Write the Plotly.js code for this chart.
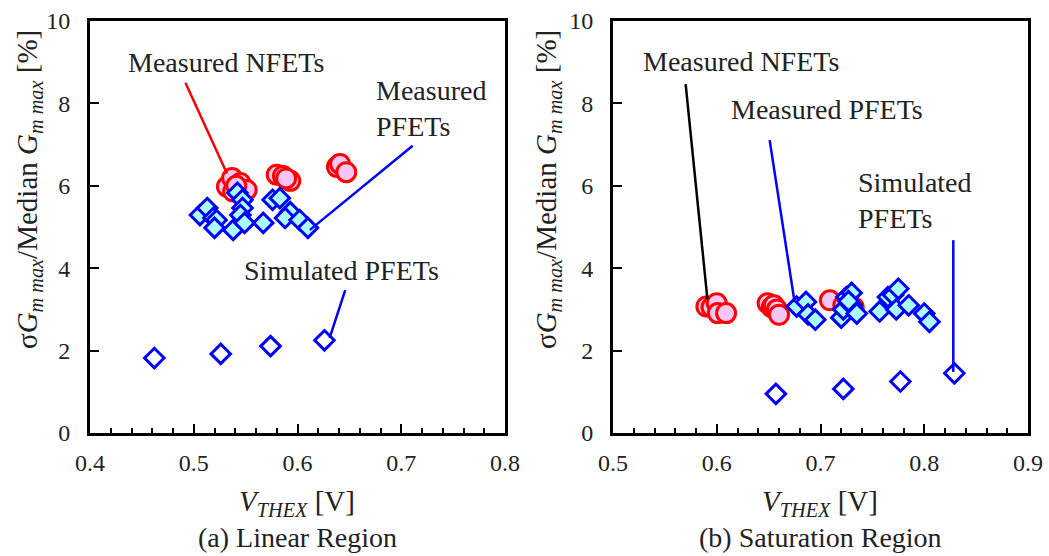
<!DOCTYPE html>
<html><head><meta charset="utf-8">
<script src="https://cdn.plot.ly/plotly-3.0.1.min.js"></script>
<style>html,body{margin:0;padding:0;background:#fff}</style>
</head><body><div id="chart" style="width:1049px;height:556px"></div>
<script>
// (a) Linear region
const linNfetX = [0.532,0.537,0.545,0.551,0.538,0.541,0.580,0.586,0.593,0.589,0.638,0.641,0.647];
const linNfetY = [5.98,6.19,6.07,5.90,5.86,6.00,6.27,6.24,6.12,6.18,6.46,6.53,6.33];
const linPfetX = [0.506,0.513,0.519,0.522,0.520,0.538,0.542,0.547,0.547,0.545,0.549,0.567,0.576,0.583,0.593,0.588,0.602,0.610];
const linPfetY = [5.29,5.46,5.22,5.17,4.98,4.93,5.83,5.66,5.46,5.29,5.10,5.10,5.66,5.70,5.36,5.22,5.17,4.98];
const linSimX = [0.462,0.526,0.574,0.626];
const linSimY = [1.82,1.92,2.11,2.25];
// (b) Saturation region
const satNfetX = [0.590,0.595,0.600,0.601,0.609,0.649,0.653,0.655,0.658,0.660,0.709,0.722,0.732];
const satNfetY = [3.07,3.05,3.15,2.91,2.91,3.15,3.05,3.10,3.00,2.87,3.22,3.10,3.05];
const satPfetX = [0.677,0.686,0.688,0.695,0.720,0.722,0.725,0.730,0.730,0.735,0.727,0.757,0.765,0.770,0.775,0.773,0.785,0.800,0.805];
const satPfetY = [3.07,3.18,2.88,2.75,2.80,3.00,3.30,3.40,3.10,2.90,3.20,2.95,3.30,3.35,3.50,3.00,3.10,2.90,2.70];
const satSimX = [0.657,0.722,0.777,0.829];
const satSimY = [0.95,1.07,1.25,1.45];

const W = 1049, H = 556;
const FONT = '"Liberation Serif", "Times New Roman", serif';
const TXT = '#222';
const px = v => v / W, py = v => 1 - v / H;

const nfetMarker = {symbol:'circle', size:19, color:'#f8c6f4', line:{color:'#ff0000', width:3}};
const pfetMarker = {symbol:'diamond', size:15, color:'#aaffff', line:{color:'#0000ff', width:3}};
const simMarker  = {symbol:'diamond', size:15, color:'#ffffff', line:{color:'#0000ff', width:3}};

const traces = [
  {x:linNfetX, y:linNfetY, type:'scatter', mode:'markers', marker:nfetMarker, xaxis:'x', yaxis:'y'},
  {x:linPfetX, y:linPfetY, type:'scatter', mode:'markers', marker:pfetMarker, xaxis:'x', yaxis:'y'},
  {x:linSimX, y:linSimY, type:'scatter', mode:'markers', marker:simMarker, xaxis:'x', yaxis:'y'},
  {x:satNfetX, y:satNfetY, type:'scatter', mode:'markers', marker:nfetMarker, xaxis:'x2', yaxis:'y2'},
  {x:satPfetX, y:satPfetY, type:'scatter', mode:'markers', marker:pfetMarker, xaxis:'x2', yaxis:'y2'},
  {x:satSimX, y:satSimY, type:'scatter', mode:'markers', marker:simMarker, xaxis:'x2', yaxis:'y2'}
];

function xax(dom, rng, anchor){
  return {domain:dom, range:rng, anchor:anchor, dtick:0.1, tickformat:'.1f',
    ticks:'inside', ticklen:9, tickwidth:2, tickcolor:'#000',
    minor:{dtick:0.02, ticks:'inside', ticklen:5, tickwidth:2, tickcolor:'#000'},
    showline:true, linewidth:3, linecolor:'#000', mirror:true,
    showgrid:false, zeroline:false, ticklabelstandoff:6,
    tickfont:{family:FONT, size:24, color:TXT}};
}
function yax(anchor){
  return {domain:[123/H, 535/H], range:[0,10], anchor:anchor, dtick:2,
    ticks:'inside', ticklen:9, tickwidth:2, tickcolor:'#000',
    showline:true, linewidth:3, linecolor:'#000', mirror:true,
    showgrid:false, zeroline:false, ticklabelstandoff:12,
    tickfont:{family:FONT, size:24, color:TXT}};
}

const ytitle = 'σ<i>G</i><sub><i>m max</i></sub>/Median <i>G</i><sub><i>m max</i></sub> [%]';
const xtitle = '<i>V</i><sub><i>THEX</i></sub> [V]';

function txt(text, x, y, anchor, size){
  return {text:text, xref:'paper', yref:'paper', x:px(x), y:py(y), xanchor:anchor||'left', yanchor:'middle',
    showarrow:false, align:'left', font:{family:FONT, size:size||28, color:TXT}};
}
const annotations = [
  txt('Measured NFETs', 126, 63),
  txt('Measured<br>PFETs', 374, 108),
  txt('Simulated PFETs', 242, 270),
  txt('Measured NFETs', 641, 62),
  txt('Measured PFETs', 729, 109),
  txt('Simulated<br>PFETs', 856, 200),
  txt(xtitle, 297, 503, 'center', 29),
  txt('(a) Linear Region', 297, 537, 'center'),
  txt(xtitle, 820, 503, 'center', 29),
  txt('(b) Saturation Region', 820, 537, 'center'),
  Object.assign(txt(ytitle, 29, 190, 'center', 29), {textangle:-90}),
  Object.assign(txt(ytitle, 548, 190, 'center', 29), {textangle:-90})
];

function seg(x0,y0,x1,y1,color,xr,yr){
  return {type:'line', xref:xr, yref:yr, x0:x0, y0:y0, x1:x1, y1:y1, line:{color:color, width:2.5}};
}
const shapes = [
  seg(0.492,8.50,0.532,6.30,'#ff0000','x','y'),
  seg(0.711,6.97,0.612,4.93,'#0000ff','x','y'),
  seg(0.646,3.47,0.631,2.31,'#0000ff','x','y'),
  seg(0.570,8.47,0.591,3.25,'#000000','x2','y2'),
  seg(0.651,7.11,0.675,3.18,'#0000ff','x2','y2'),
  seg(0.828,4.68,0.828,1.48,'#0000ff','x2','y2')
];

const layout = {
  width:W, height:H, margin:{l:0,r:0,t:0,b:0},
  paper_bgcolor:'#fff', plot_bgcolor:'#fff', showlegend:false,
  xaxis:xax([90/W, 505/W],[0.4,0.8],'y'),
  yaxis:yax('x'),
  xaxis2:xax([613/W, 1028/W],[0.5,0.9],'y2'),
  yaxis2:yax('x2'),
  annotations:annotations, shapes:shapes
};
Plotly.newPlot('chart', traces, layout, {displayModeBar:false, staticPlot:true});
</script></body></html>
